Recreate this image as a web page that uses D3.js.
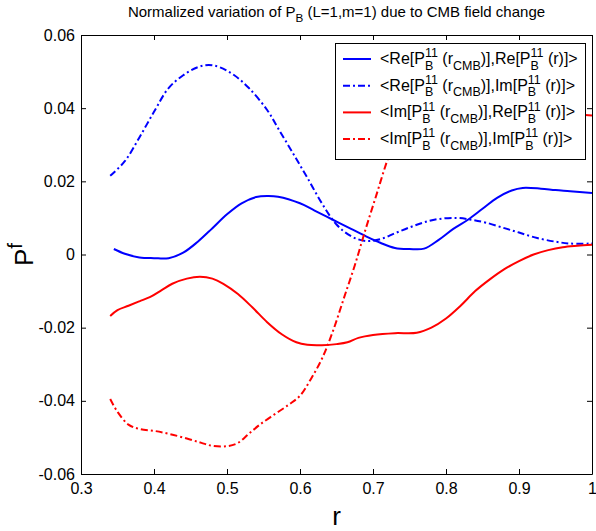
<!DOCTYPE html>
<html>
<head>
<meta charset="utf-8">
<script src="https://cdn.jsdelivr.net/npm/d3@7"></script>
<style>
  body { margin: 0; background: #fff; }
  svg text { font-family: "Liberation Sans", Arial, sans-serif; fill: #000; }
</style>
</head>
<body>
<div id="chart"></div>
<script>
// values
const xTicks = [0.3, 0.4, 0.5, 0.6, 0.7, 0.8, 0.9, 1];
const yTicks = [-0.06, -0.04, -0.02, 0, 0.02, 0.04, 0.06];

const reRe_r = [0.345, 0.36, 0.38, 0.40, 0.42, 0.44, 0.46, 0.48, 0.50, 0.52, 0.54, 0.555, 0.57, 0.60, 0.62, 0.645, 0.67, 0.69, 0.71, 0.73, 0.75, 0.77, 0.79, 0.81, 0.83, 0.85, 0.87, 0.89, 0.905, 0.93, 0.95, 0.97, 1.0];
const reRe_p = [0.0015, 0.0002, -0.0008, -0.0010, -0.0010, 0.0005, 0.0035, 0.0072, 0.0110, 0.0140, 0.0157, 0.0160, 0.0158, 0.0140, 0.0120, 0.0095, 0.0070, 0.0050, 0.0032, 0.0018, 0.0015, 0.0016, 0.0040, 0.0070, 0.0095, 0.0125, 0.0155, 0.0175, 0.0182, 0.0180, 0.0176, 0.0173, 0.0168];

const reIm_r = [0.34, 0.36, 0.38, 0.40, 0.42, 0.44, 0.46, 0.475, 0.49, 0.51, 0.53, 0.555, 0.57, 0.59, 0.61, 0.63, 0.65, 0.67, 0.69, 0.71, 0.73, 0.75, 0.77, 0.79, 0.815, 0.835, 0.855, 0.88, 0.90, 0.925, 0.95, 0.97, 1.0];
const reIm_p = [0.0215, 0.0255, 0.0320, 0.0390, 0.0455, 0.0490, 0.0512, 0.0518, 0.0512, 0.0490, 0.0455, 0.0395, 0.0345, 0.0278, 0.0210, 0.0140, 0.0082, 0.0050, 0.0037, 0.0042, 0.0058, 0.0074, 0.0088, 0.0097, 0.0100, 0.0095, 0.0087, 0.0072, 0.0060, 0.0045, 0.0035, 0.0030, 0.0030];

const imRe_r = [0.34, 0.35, 0.365, 0.38, 0.395, 0.41, 0.425, 0.445, 0.463, 0.48, 0.495, 0.515, 0.535, 0.555, 0.575, 0.595, 0.61, 0.63, 0.65, 0.665, 0.68, 0.70, 0.73, 0.76, 0.78, 0.80, 0.82, 0.84, 0.86, 0.88, 0.90, 0.92, 0.94, 0.96, 0.98, 1.0];
const imRe_p = [-0.0168, -0.0152, -0.0140, -0.0128, -0.0116, -0.0098, -0.0080, -0.0066, -0.0061, -0.0066, -0.0080, -0.0108, -0.0145, -0.0185, -0.0218, -0.0240, -0.0247, -0.0248, -0.0245, -0.0240, -0.0228, -0.0220, -0.0215, -0.0214, -0.0200, -0.0175, -0.0140, -0.0100, -0.0068, -0.0040, -0.0018, 0.0000, 0.0012, 0.0020, 0.0024, 0.0027];

const imIm_r = [0.34, 0.35, 0.365, 0.38, 0.40, 0.42, 0.445, 0.465, 0.48, 0.50, 0.515, 0.53, 0.545, 0.565, 0.585, 0.60, 0.615, 0.63, 0.645, 0.66, 0.675, 0.69, 0.705, 0.72, 0.735, 0.75, 0.78, 0.85, 0.92, 1.0];
const imIm_p = [-0.0395, -0.0430, -0.0465, -0.0477, -0.0482, -0.0490, -0.0503, -0.0515, -0.0523, -0.0524, -0.0515, -0.0490, -0.0465, -0.0437, -0.0410, -0.0386, -0.0340, -0.0285, -0.0210, -0.0120, -0.0030, 0.0070, 0.0165, 0.0260, 0.0340, 0.0385, 0.0410, 0.0405, 0.0390, 0.0380];

const series = [
  { r: reRe_r, p: reRe_p, color: "#0000ff", dash: null,
    label: ["<Re[P", { sup: "11", sub: "B" }, "\u00a0(r", { sub: "CMB" }, ")],Re[P", { sup: "11", sub: "B" }, "\u00a0(r)]>"] },
  { r: reIm_r, p: reIm_p, color: "#0000ff", dash: "7,3,2,3",
    label: ["<Re[P", { sup: "11", sub: "B" }, "\u00a0(r", { sub: "CMB" }, ")],Im[P", { sup: "11", sub: "B" }, "\u00a0(r)]>"] },
  { r: imRe_r, p: imRe_p, color: "#ff0000", dash: null,
    label: ["<Im[P", { sup: "11", sub: "B" }, "\u00a0(r", { sub: "CMB" }, ")],Re[P", { sup: "11", sub: "B" }, "\u00a0(r)]>"] },
  { r: imIm_r, p: imIm_p, color: "#ff0000", dash: "7,3,2,3",
    label: ["<Im[P", { sup: "11", sub: "B" }, "\u00a0(r", { sub: "CMB" }, ")],Im[P", { sup: "11", sub: "B" }, "\u00a0(r)]>"] }
];

const W = 596, H = 531;
const m = { left: 81, right: 4, top: 35, bottom: 57 };
const iw = W - m.left - m.right, ih = H - m.top - m.bottom;

const svg = d3.select("#chart").append("svg")
  .attr("width", W)
  .attr("height", H);

const x = d3.scaleLinear().domain([0.3, 1]).range([m.left, m.left + iw]);
const y = d3.scaleLinear().domain([-0.06, 0.06]).range([m.top + ih, m.top]);

// draws text with tex-like sub/superscripts, returns width
function rich(g, x0, y0, parts, fs) {
  let cx = x0;
  const small = fs * 0.78;
  parts.forEach((p) => {
    if (typeof p === "string") {
      const t = g.append("text").attr("x", cx).attr("y", y0).style("font-size", fs + "px").text(p);
      cx += t.node().getComputedTextLength();
    } else {
      let w = 0;
      if (p.sup) {
        const t = g.append("text").attr("x", cx).attr("y", y0 - fs * 0.42).style("font-size", small + "px").text(p.sup);
        w = Math.max(w, t.node().getComputedTextLength());
      }
      if (p.sub) {
        const t = g.append("text").attr("x", cx).attr("y", y0 + fs * 0.36).style("font-size", small + "px").text(p.sub);
        w = Math.max(w, t.node().getComputedTextLength());
      }
      cx += w;
    }
  });
  return cx - x0;
}

// lines
svg.append("clipPath").attr("id", "clip")
  .append("rect").attr("x", m.left).attr("y", m.top).attr("width", iw).attr("height", ih);

const line = d3.line()
  .x((d) => x(d[0]))
  .y((d) => y(d[1]))
  .curve(d3.curveCatmullRom);

svg.append("g").attr("clip-path", "url(#clip)")
  .selectAll("path")
  .data(series)
  .enter().append("path")
  .attr("d", (s) => line(d3.zip(s.r, s.p)))
  .style("fill", "none")
  .style("stroke", (s) => s.color)
  .style("stroke-width", 2)
  .style("stroke-dasharray", (s) => s.dash);

// axes (ticks inside, box all round)
const fmtY = (d) => String(+d.toFixed(2));
const fmtX = (d) => String(+d.toFixed(1));

const axB = svg.append("g").attr("transform", `translate(0,${m.top + ih})`)
  .call(d3.axisBottom(x).tickValues(xTicks).tickSizeInner(-5).tickSizeOuter(0).tickPadding(9).tickFormat(fmtX));
const axT = svg.append("g").attr("transform", `translate(0,${m.top})`)
  .call(d3.axisTop(x).tickValues(xTicks).tickSizeInner(-5).tickSizeOuter(0).tickFormat(""));
const axL = svg.append("g").attr("transform", `translate(${m.left},0)`)
  .call(d3.axisLeft(y).tickValues(yTicks).tickSizeInner(-5).tickSizeOuter(0).tickPadding(6).tickFormat(fmtY));
const axR = svg.append("g").attr("transform", `translate(${m.left + iw},0)`)
  .call(d3.axisRight(y).tickValues(yTicks).tickSizeInner(-5).tickSizeOuter(0).tickFormat(""));

[axB, axT, axL, axR].forEach((a) => {
  a.selectAll("text").style("font-size", "16px").style("font-family", "'Liberation Sans', Arial, sans-serif");
  a.selectAll("line").style("stroke", "#000");
  a.select(".domain").style("stroke", "#000");
});

// legend
const lg = svg.append("g");
lg.append("rect")
  .attr("x", 335.5).attr("y", 43.5).attr("width", 250).attr("height", 116)
  .style("fill", "#fff").style("stroke", "#000");

series.forEach((s, i) => {
  const cy = 59 + i * 26.7;
  lg.append("line")
    .attr("x1", 343).attr("x2", 371).attr("y1", cy).attr("y2", cy)
    .style("stroke", s.color).style("stroke-width", 2)
    .style("stroke-dasharray", s.dash);
  rich(lg, 380, cy + 5, s.label, 16);
});

// title
const tg = svg.append("g");
const tw = rich(tg, 0, 17, ["Normalized variation of P", { sub: "B" }, "\u00a0(L=1,m=1) due to CMB field change"], 15);
tg.attr("transform", `translate(${m.left + iw / 2 - tw / 2},0)`);

// axis labels
svg.append("text")
  .attr("x", m.left + iw / 2).attr("y", 525)
  .attr("text-anchor", "middle")
  .style("font-size", "26px")
  .text("r");

const yl = svg.append("g");
const yw = rich(yl, 0, 0, ["P", { sup: "f" }], 26);
yl.attr("transform", `translate(33,${m.top + ih / 2 + yw / 2}) rotate(-90)`);
</script>
</body>
</html>
